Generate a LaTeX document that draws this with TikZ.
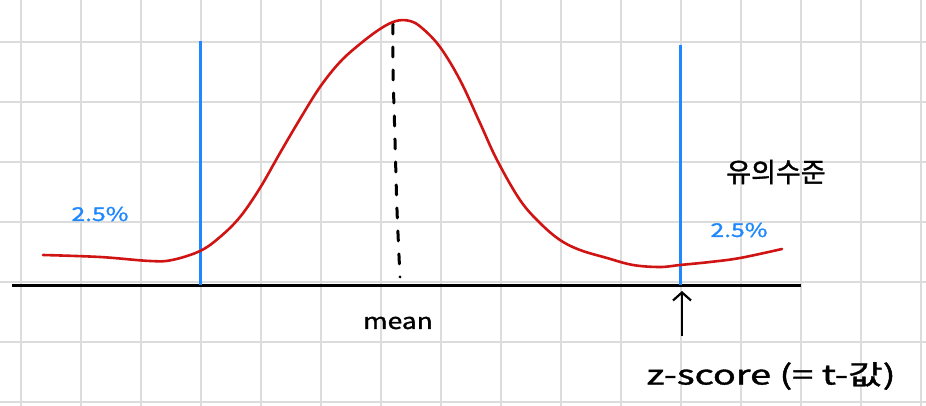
\documentclass[tikz,border=0pt]{standalone}
\usepackage{fontspec}
\setmainfont{Noto Sans CJK KR}
\newfontfamily\handfont{Noto Sans CJK KR}[FakeBold=1.2]
\usetikzlibrary{arrows.meta}
\definecolor{gridc}{HTML}{DCDCDC}
\definecolor{curvered}{HTML}{D01414}
\definecolor{lineblue}{HTML}{1E88FF}
\tikzset{
  gridline/.style={draw=gridc, line width=2pt},
  axisline/.style={draw=black, line width=3pt},
  bluemark/.style={draw=lineblue, line width=3pt},
  density/.style={draw=curvered, line width=2.6pt, line cap=round, line join=round},
  meanline/.style={draw=black, line width=3pt, dash pattern=on 10pt off 13pt, line cap=round},
  pctlabel/.style={text=lineblue, font=\handfont\fontsize{19}{21}\selectfont, inner sep=0pt},
  blacklabel/.style={text=black, inner sep=0pt},
  uparrow/.style={draw=black, line width=2.2pt, -{Straight Barb[length=8pt,width=18pt,line width=2.2pt]}}
}
\begin{document}
\begin{tikzpicture}[x=1pt,y=-1pt]
\fill[white] (0,0) rectangle (926,406);
\useasboundingbox (0,0) rectangle (926,406);
% grid
\foreach \x in {21,81,...,921} \draw[gridline] (\x,0) -- (\x,406);
\foreach \y in {42,102,...,402} \draw[gridline] (0,\y) -- (926,\y);
% axis
\coordinate (axL) at (12,285);
\coordinate (axR) at (801,285);
\draw[axisline] (axL) -- (axR);
% blue lines
\coordinate (bl1) at (200,41);
\coordinate (bl2) at (200,285);
\coordinate (br1) at (680,45);
\coordinate (br2) at (680,285);
\draw[bluemark] (bl1) -- (bl2);
\draw[bluemark] (br1) -- (br2);
% mean dashed line
\draw[meanline] plot[smooth] coordinates {(393,24) (393,70) (395,140) (397,210) (400,277)};
% density curve
\draw[density] plot[smooth, tension=0.6] coordinates {
 (43,255) (100,257) (150,261) (172,260) (200,251) (220,237) (240,217) (260,188)
 (280,153) (300,119) (320,87) (340,62) (360,44) (380,29) (396,21) (410,21)
 (422,28) (440,47) (460,80) (480,123) (497,160) (520,200) (540,223) (560,240)
 (580,250) (607,258) (633,265) (660,267) (680,265) (710,262) (740,258) (782,249)};
% labels
\node[pctlabel] (pl) at (100,214) {\scalebox{1.3}[1]{2.5\%}};
\node[pctlabel] (pr) at (739,230) {\scalebox{1.3}[1]{2.5\%}};
\node[blacklabel, font=\handfont\fontsize{27}{29}\selectfont] (sig) at (776,172) {유의수준};
\node[blacklabel, font=\handfont\fontsize{22}{24}\selectfont] (mean) at (398,323) {\scalebox{1.2}[1]{mean}};
\node[blacklabel, font=\handfont\fontsize{27}{29}\selectfont] (zs) at (771,376) {\scalebox{1.4}[1]{z-score (= t-값)}};
% arrow
\coordinate (arS) at (682,336);
\coordinate (arE) at (682,291);
\draw[uparrow] (arS) -- (arE);
\end{tikzpicture}
\end{document}
